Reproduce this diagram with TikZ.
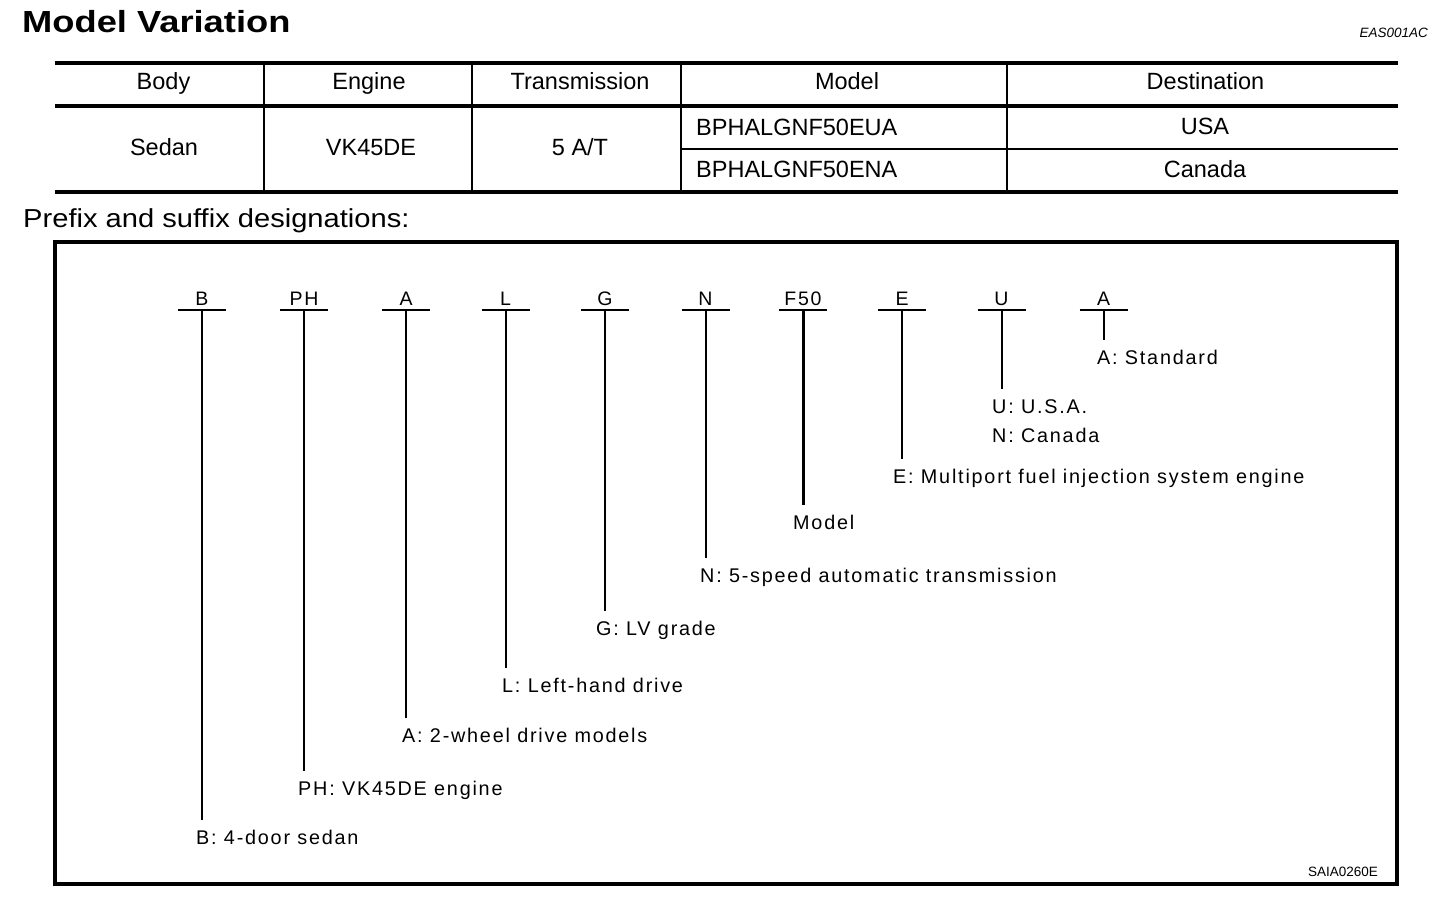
\documentclass[tikz,border=0pt]{standalone}
\usepackage{fontspec}
\setmainfont{Liberation Sans}
\newfontfamily\lblfont[LetterSpace=9]{Liberation Sans}
\begin{document}
\begin{tikzpicture}[x=1pt,y=-1pt,
  cell/.style={anchor=base,inner sep=0pt,font=\fontsize{23.5}{28}\selectfont},
  code/.style={anchor=base,inner sep=0pt,font=\lblfont\fontsize{19.5}{22}\selectfont},
  lbl/.style={anchor=base west,inner sep=0pt,outer ysep=10pt,text height=14pt,font=\lblfont\fontsize{19.8}{24}\selectfont},
  rulebold/.style={line width=4pt},
  rulethin/.style={line width=2pt},
  bar/.style={line width=2pt},
  stem/.style={line width=2pt}]
\useasboundingbox (0,0) rectangle (1456,900);

\node(title) at (22,32)[anchor=base west,inner sep=0pt,font=\bfseries\fontsize{30.5}{34}\selectfont] {\scalebox{1.19}[1]{Model Variation}};
\node(ref) at (1428,37)[anchor=base east,inner sep=0pt,font=\itshape\fontsize{13.5}{16}\selectfont] {EAS001AC};

% table
\draw[rulebold] (55,62.5) -- (1398,62.5);
\draw[rulebold] (55,105.5) -- (1398,105.5);
\draw[rulethin] (681,148.5) -- (1398,148.5);
\draw[rulebold] (55,191.5) -- (1398,191.5);
\draw[rulethin] (264,62.5) -- (264,191.5);
\draw[rulethin] (472,62.5) -- (472,191.5);
\draw[rulethin] (681,62.5) -- (681,191.5);
\draw[rulethin] (1007,62.5) -- (1007,191.5);

\node(hBody) at (163.5,89.5)[cell] {Body};
\node(hEngine) at (369,89.5)[cell] {Engine};
\node(hTrans) at (580,89.5)[cell] {Transmission};
\node(hModel) at (847,89.5)[cell] {Model};
\node(hDest) at (1205.5,89.5)[cell] {Destination};
\node(vBody) at (164,155)[cell] {Sedan};
\node(vEngine) at (371,155)[cell] {VK45DE};
\node(vTrans) at (580,155)[cell] {5 A/T};
\node(vModel1) at (696,135)[cell,anchor=base west] {BPHALGNF50EUA};
\node(vModel2) at (696,177.5)[cell,anchor=base west] {BPHALGNF50ENA};
\node(vDest1) at (1205,134.5)[cell] {USA};
\node(vDest2) at (1205,177.5)[cell] {Canada};

% designations
\node(sub) at (23,227)[anchor=base west,inner sep=0pt,font=\fontsize{26}{30}\selectfont] {\scalebox{1.12}[1]{Prefix and suffix designations:}};
\draw[line width=4pt] (55,242) rectangle (1397,884);
\node(fig) at (1378,876)[anchor=base east,inner sep=0pt,font=\fontsize{13.5}{16}\selectfont] {SAIA0260E};

\node(cB) at (202,305)[code] {B};
\node(cPH) at (304,305)[code] {PH};
\node(cA) at (406,305)[code] {A};
\node(cL) at (505.5,305)[code] {L};
\node(cG) at (605,305)[code] {G};
\node(cN) at (705.5,305)[code] {N};
\node(cF) at (803,305)[code] {F50};
\node(cE) at (902,305)[code] {E};
\node(cU) at (1001.5,305)[code] {U};
\node(cA2) at (1103.5,305)[code] {A};

\coordinate(bB) at (202,310);
\coordinate(bPH) at (304,310);
\coordinate(bA) at (406,310);
\coordinate(bL) at (505.5,310);
\coordinate(bG) at (605,310);
\coordinate(bN) at (705.5,310);
\coordinate(bF) at (803,310);
\coordinate(bE) at (902,310);
\coordinate(bU) at (1001.5,310);
\coordinate(bA2) at (1103.5,310);

\draw[bar,line width=1.2pt] ([xshift=-24pt]bB) -- ([xshift=24pt]bB);
\draw[bar,line width=1.2pt] ([xshift=-24pt]bPH) -- ([xshift=24pt]bPH);
\draw[bar] ([xshift=-24pt]bA) -- ([xshift=24pt]bA);
\draw[bar] ([xshift=-24pt]bL) -- ([xshift=24pt]bL);
\draw[bar] ([xshift=-24pt]bG) -- ([xshift=24pt]bG);
\draw[bar] ([xshift=-24pt]bN) -- ([xshift=24pt]bN);
\draw[bar] ([xshift=-24pt]bF) -- ([xshift=24pt]bF);
\draw[bar] ([xshift=-24pt]bE) -- ([xshift=24pt]bE);
\draw[bar] ([xshift=-24pt]bU) -- ([xshift=24pt]bU);
\draw[bar] ([xshift=-24pt]bA2) -- ([xshift=24pt]bA2);

\node(lB) at (196,844)[lbl] {B: 4-door sedan};
\node(lPH) at (298,795)[lbl] {PH: VK45DE engine};
\node(lA) at (402,742)[lbl] {A: 2-wheel drive models};
\node(lL) at (502,692)[lbl] {L: Left-hand drive};
\node(lG) at (596,635)[lbl] {G: LV grade};
\node(lN) at (700,582)[lbl] {N: 5-speed automatic transmission};
\node(lF) at (793,529)[lbl] {Model};
\node(lE) at (893,483)[lbl] {E: Multiport fuel injection system engine};
\node(lU) at (992,413)[lbl] {U: U.S.A.};
\node(lU2) at (992,442)[lbl] {N: Canada};
\node(lA2) at (1097,364)[lbl] {A: Standard};

\path [stem]
  (bB)     edge          (bB |- lB.north)
  (bPH)    edge          (bPH |- lPH.north)
  (bA)     edge          (bA |- lA.north)
  (bL)     edge          (bL |- lL.north)
  (bG)     edge          (bG |- lG.north)
  (bN)     edge          (bN |- lN.north)
  (bF)     edge [line width=3pt] (bF |- lF.north)
  (bE)     edge          (bE |- lE.north)
  (bU)     edge          (bU |- lU.north)
  (bA2)    edge          (bA2 |- lA2.north);

\end{tikzpicture}
\end{document}
